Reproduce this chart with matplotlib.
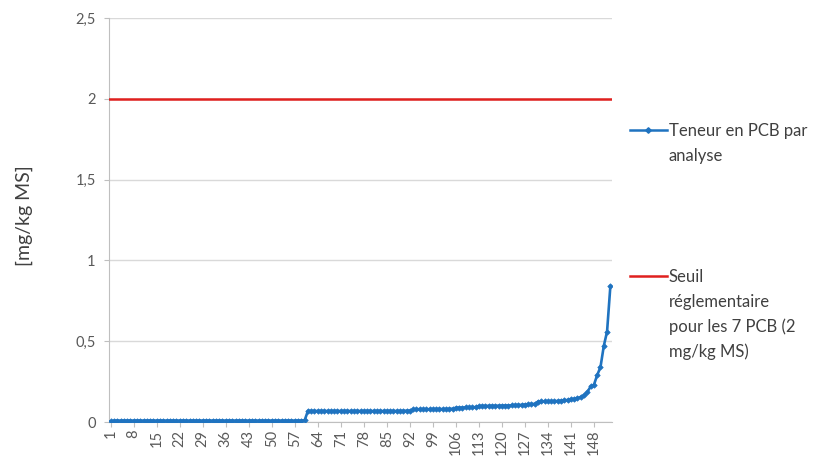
import matplotlib
matplotlib.use("Agg")
import matplotlib.pyplot as plt
from matplotlib.lines import Line2D

# ---- data ----
teneur = [
    0.004, 0.008, 0.009, 0.009, 0.009, 0.009, 0.009, 0.009, 0.009, 0.009,
    0.009, 0.009, 0.009, 0.009, 0.009, 0.009, 0.009, 0.009, 0.009, 0.009,
    0.009, 0.009, 0.009, 0.009, 0.009, 0.009, 0.009, 0.009, 0.009, 0.009,
    0.009, 0.009, 0.009, 0.009, 0.009, 0.009, 0.009, 0.009, 0.009, 0.009,
    0.009, 0.009, 0.009, 0.009, 0.009, 0.009, 0.009, 0.009, 0.009, 0.009,
    0.009, 0.009, 0.009, 0.009, 0.009, 0.009, 0.009, 0.009, 0.009, 0.010,
    0.068, 0.068, 0.068, 0.068, 0.068, 0.068, 0.068, 0.068, 0.068, 0.068,
    0.068, 0.068, 0.068, 0.068, 0.068, 0.068, 0.068, 0.068, 0.068, 0.068,
    0.068, 0.068, 0.068, 0.068, 0.068, 0.068, 0.068, 0.068, 0.068, 0.069,
    0.070, 0.070, 0.078, 0.079, 0.079, 0.079, 0.079, 0.079, 0.080, 0.080,
    0.080, 0.080, 0.080, 0.081, 0.082, 0.088, 0.089, 0.089, 0.090, 0.090,
    0.091, 0.092, 0.098, 0.099, 0.099, 0.100, 0.100, 0.100, 0.101, 0.101,
    0.102, 0.102, 0.103, 0.104, 0.105, 0.106, 0.108, 0.110, 0.111, 0.112,
    0.126, 0.127, 0.127, 0.128, 0.128, 0.129, 0.130, 0.132, 0.134, 0.136,
    0.140, 0.143, 0.146, 0.155, 0.165, 0.185, 0.220, 0.230, 0.290, 0.340,
    0.470, 0.560, 0.840,
]
analyses = list(range(1, len(teneur) + 1))
seuil = 2.0
xtick_labels = [str(v) for v in range(1, 149, 7)]
ytick_values = [0, 0.5, 1, 1.5, 2, 2.5]
ytick_labels = ["0", "0,5", "1", "1,5", "2", "2,5"]
label_teneur = "Teneur en PCB par\nanalyse"
label_seuil = "Seuil\nréglementaire\npour les 7 PCB (2\nmg/kg MS)"

plt.rcParams['font.family'] = ['Lato', 'DejaVu Sans']

blue = '#1f73c0'
red = '#e0201e'
gray_txt = '#595959'
grid_c = '#d9d9d9'
W, H = 828, 458

fig = plt.figure(figsize=(8.28, 4.58), dpi=100)
ax = fig.add_axes([109/W, 1 - 422/H, (612 - 109)/W, (422 - 18)/H])

ax.axhline(seuil, color=red, lw=1.8, zorder=3)
ax.plot(analyses, teneur, color=blue, lw=1.9, marker='D', markersize=2.8,
        markeredgewidth=0.5, zorder=4)

ax.set_xlim(0.5, len(teneur) + 0.5)
ax.set_ylim(0, 2.5)
ax.set_yticks(ytick_values)
ax.set_yticklabels(ytick_labels, color=gray_txt, fontsize=10.5)
ax.set_xticks([int(s) for s in xtick_labels])
ax.set_xticklabels(xtick_labels, rotation=90, color=gray_txt, fontsize=10.5)
ax.tick_params(axis='y', length=3.6, color='#bfbfbf', pad=6)
ax.tick_params(axis='x', length=3.6, color='#bfbfbf', pad=2)
ax.grid(axis='y', color=grid_c, lw=1)
ax.set_axisbelow(True)
for s in ['top', 'right']:
    ax.spines[s].set_visible(False)
for s in ['left', 'bottom']:
    ax.spines[s].set_color('#bfbfbf')
ax.set_ylabel("[mg/kg MS]", fontsize=14, color='#404040')
ax.yaxis.set_label_coords((33 - 109) / 503, 0.51)


def legend_block(y_px, label, color, marker):
    lines = label.split("\n")
    fig.add_artist(Line2D([630/W, 667/W], [1 - y_px/H, 1 - y_px/H],
                          transform=fig.transFigure, color=color, lw=1.8))
    if marker:
        fig.add_artist(Line2D([648.5/W], [1 - y_px/H], transform=fig.transFigure,
                              color=color, marker=marker, markersize=2.8, lw=0))
    for i, ln in enumerate(lines):
        fig.text(669/W, 1 - (y_px + 6 + 25 * i)/H, ln, ha='left', va='baseline',
                 fontsize=12, color='#404040')


legend_block(130, label_teneur, blue, 'D')
legend_block(276, label_seuil, red, None)

fig.savefig("out.png", dpi=100)
